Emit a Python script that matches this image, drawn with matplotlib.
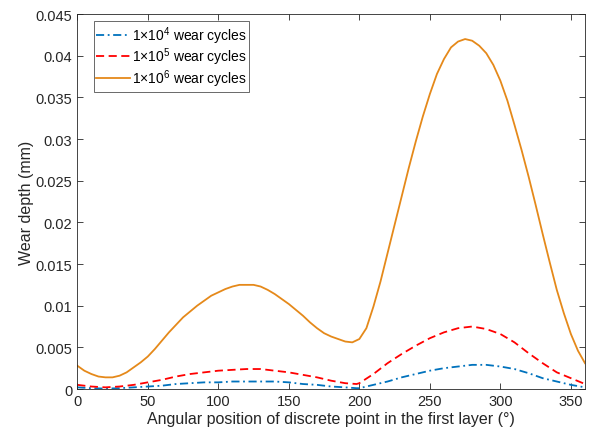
import numpy as np
import matplotlib
matplotlib.use("Agg")
import matplotlib.pyplot as plt
from matplotlib.ticker import FormatStrFormatter

plt.rcParams["font.family"] = ["Liberation Sans", "DejaVu Sans"]
plt.rcParams["mathtext.fontset"] = "custom"
plt.rcParams["mathtext.rm"] = "Liberation Sans"
plt.rcParams["mathtext.it"] = "Liberation Sans"

# wear depth (mm)
angle_fine = list(range(0, 361, 5))
depth_1e6 = [0.0028, 0.0022, 0.0018, 0.0015, 0.0014, 0.0014, 0.0016, 0.0020, 0.0026, 0.0032,
             0.0039, 0.0048, 0.0058, 0.0068, 0.0077, 0.0086, 0.0093, 0.0100, 0.0106, 0.0112,
             0.0116, 0.0120, 0.0123, 0.0125, 0.0125, 0.0125, 0.0123, 0.0119, 0.0114, 0.0108,
             0.0102, 0.0095, 0.0088, 0.0080, 0.0073, 0.0067, 0.0063, 0.0060, 0.0057, 0.0056,
             0.0060, 0.0073, 0.0099, 0.0129, 0.0163, 0.0197, 0.0231, 0.0265, 0.0297, 0.0327,
             0.0354, 0.0378, 0.0396, 0.0410, 0.0417, 0.0420, 0.0418, 0.0412, 0.0403, 0.0389,
             0.0370, 0.0346, 0.0317, 0.0287, 0.0255, 0.0221, 0.0186, 0.0152, 0.0119, 0.0091,
             0.0066, 0.0046, 0.0031]

angle = [0, 10, 20, 30, 40, 50, 60, 70, 80, 90, 100, 110, 120, 130, 140, 150, 160, 170,
         180, 190, 198, 200, 210, 220, 230, 240, 250, 260, 270, 280, 290, 300, 310, 320,
         330, 340, 350, 360]
depth_1e5 = [0.0005, 0.0003, 0.0002, 0.0003, 0.0005, 0.0008, 0.0011, 0.0015, 0.0018, 0.0020,
             0.0022, 0.0023, 0.0024, 0.0024, 0.0022, 0.0020, 0.0017, 0.0014, 0.0010, 0.0007,
             0.0006, 0.0007, 0.0018, 0.0031, 0.0042, 0.0052, 0.0061, 0.0068, 0.0073, 0.0075,
             0.0072, 0.0066, 0.0056, 0.0043, 0.0031, 0.0020, 0.0013, 0.0006]
depth_1e4 = [0.0002, 0.0001, 0.00005, 0.0001, 0.0002, 0.0003, 0.0004, 0.0006, 0.0007, 0.0008,
             0.0008, 0.0009, 0.0009, 0.0009, 0.0009, 0.0008, 0.0006, 0.0005, 0.0003, 0.0002,
             0.0001, 0.0001, 0.0005, 0.0009, 0.0014, 0.0018, 0.0022, 0.0025, 0.0027, 0.0029,
             0.0029, 0.0027, 0.0024, 0.0019, 0.0013, 0.0009, 0.0005, 0.0002]

fig = plt.figure(figsize=(5.89, 4.35), dpi=100)
ax = fig.add_axes([0.1312, 0.1034, 0.862, 0.862])

ax.plot(angle, depth_1e4, color="#0072BD", lw=1.3, dashes=[4.5, 2, 1, 2],
        label="1×$10^{4}$ wear cycles")
ax.plot(angle, depth_1e5, color="#FF0000", lw=1.3, dashes=[4.5, 2.5],
        label="1×$10^{5}$ wear cycles")
ax.plot(angle_fine, depth_1e6, color="#E5891A", lw=1.3, label="1×$10^{6}$ wear cycles")

ax.set_xlim(0, 360)
ax.set_ylim(0, 0.045)
ax.set_xticks(np.arange(0, 351, 50))
ax.set_yticks(np.arange(0, 0.0451, 0.005))
ax.yaxis.set_major_formatter(FormatStrFormatter("%g"))
ax.tick_params(direction="in", top=True, right=True, length=4, width=0.6,
               labelsize=10.5, colors="#262626")
for s in ax.spines.values():
    s.set_color("#262626")
    s.set_linewidth(0.6)

ax.set_xlabel("Angular position of discrete point in the first layer (°)", fontsize=11.5,
              color="#262626", labelpad=2)
ax.set_ylabel("Wear depth (mm)", fontsize=11.5, color="#262626", labelpad=1)

leg = ax.legend(loc="upper left", bbox_to_anchor=(0.032, 0.981), borderaxespad=0,
                fontsize=10, frameon=True, fancybox=False, edgecolor="#262626",
                handlelength=2.4, handletextpad=0.15, borderpad=0.2, labelspacing=0.0)
leg.get_frame().set_linewidth(0.6)

fig.savefig("out.png", dpi=100)
